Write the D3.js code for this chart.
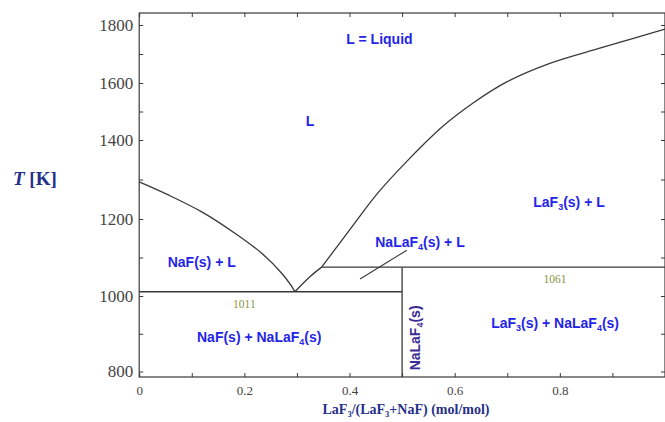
<!DOCTYPE html>
<html><head><meta charset="utf-8">
<script src="https://cdn.jsdelivr.net/npm/d3@7"></script>
<style>body{margin:0;background:#fff;overflow:hidden}</style>
</head><body><svg id="c" width="665" height="422"></svg>
<script>
// ---- data ----
const yTickValues = [800, 1000, 1200, 1400, 1600, 1800];
const xTickValues = [0, 0.2, 0.4, 0.6, 0.8];
const xMinorTicks = [0, 0.1, 0.2, 0.3, 0.4, 0.5, 0.6, 0.7, 0.8, 0.9, 1.0];
const yMinorTicks = [800, 900, 1000, 1100, 1200, 1300, 1400, 1500, 1600, 1700, 1800];

const naFLiquidusX = [0, 0.0553, 0.119, 0.182, 0.233, 0.271, 0.295, 0.296];
const naFLiquidusT = [1294, 1261, 1218, 1163, 1111, 1059, 1014, 1011];
const naLaF4LiquidusX = [0.296, 0.3247, 0.347];
const naLaF4LiquidusT = [1011, 1050, 1075];
const laF3LiquidusX = [0.347, 0.401, 0.454, 0.509, 0.578, 0.635, 0.699, 0.781, 0.876, 0.940, 1.0];
const laF3LiquidusT = [1075, 1173, 1266, 1346, 1449, 1530, 1604, 1668, 1720, 1754, 1786];

const eutecticX = [0, 0.5];
const eutecticT = 1011;
const peritecticX = [0.347, 1.0];
const peritecticT = 1075;
const compoundX = 0.5;
const leaderX = [0.42, 0.509];
const leaderT = [1044, 1119];

const regionLabels = ["L = Liquid", "L", "NaF(s) + L", "NaF(s) + NaLaF_4(s)", "NaLaF_4(s) + L", "LaF_3(s) + L", "LaF_3(s) + NaLaF_4(s)"];
const regionLabelX = [0.457, 0.325, 0.119, 0.2283, 0.534, 0.8175, 0.791];
const regionLabelT = [1733, 1449, 1076, 879, 1128, 1231, 914];
const tempLabels = ["1011", "1061"];
const tempLabelX = [0.2, 0.791];
const tempLabelT = [968, 1035];
const compoundLabel = "NaLaF_4(s)";
const compoundLabelX = 0.534;
const compoundLabelT = 889;

// ---- scales ----
const x = d3.scaleLinear().domain([0, 1]).range([139.2, 665]);
const y = d3.scaleLinear()
  .domain([785, 800, 1000, 1200, 1400, 1600, 1800, 1841])
  .range([377, 371.5, 296, 219, 140, 83, 25, 13]);
const yLo = 785, yHi = 1841;

const svg = d3.select("#c");
const lineCol = "#3a3a3a";
const blue = "#2424e8";

// frame
svg.append("rect")
  .attr("x", x(0)).attr("y", y(yHi))
  .attr("width", x(1) - x(0)).attr("height", y(yLo) - y(yHi))
  .attr("fill", "none").attr("stroke", lineCol).attr("stroke-width", 1.2);

// inner minor ticks
function styleTicks(g) {
  g.select(".domain").remove();
  g.selectAll("line").attr("stroke", lineCol).attr("stroke-width", 1);
}
svg.append("g").attr("transform", `translate(0,${y(yLo)})`)
  .call(d3.axisBottom(x).tickValues(xMinorTicks).tickSize(-4).tickFormat("")).call(styleTicks);
svg.append("g").attr("transform", `translate(0,${y(yHi)})`)
  .call(d3.axisTop(x).tickValues(xMinorTicks).tickSize(-4).tickFormat("")).call(styleTicks);
svg.append("g").attr("transform", `translate(${x(0)},0)`)
  .call(d3.axisLeft(y).tickValues(yMinorTicks).tickSize(-4).tickFormat("")).call(styleTicks);
svg.append("g").attr("transform", `translate(${x(1)},0)`)
  .call(d3.axisRight(y).tickValues(yMinorTicks).tickSize(-4).tickFormat("")).call(styleTicks);

// tick labels
const xAx = svg.append("g").attr("transform", `translate(0,${y(yLo)})`)
  .call(d3.axisBottom(x).tickValues(xTickValues).tickSize(0).tickPadding(9)
    .tickFormat(d => d === 0 ? "0" : d3.format(".1f")(d)));
xAx.select(".domain").remove();
xAx.selectAll("text").attr("font-family", "Liberation Serif, Times New Roman, serif")
  .attr("font-size", 13).attr("fill", "#444");

const yAx = svg.append("g").attr("transform", `translate(${x(0)},0)`)
  .call(d3.axisLeft(y).tickValues(yTickValues).tickSize(0).tickPadding(6).tickFormat(d3.format("d")));
yAx.select(".domain").remove();
yAx.selectAll("text").attr("font-family", "Liberation Serif, Times New Roman, serif")
  .attr("font-size", 17).attr("fill", "#444");

// phase boundaries
const line = d3.line().x(d => x(d[0])).y(d => y(d[1])).curve(d3.curveCatmullRom.alpha(0.5));
function drawCurve(xs, ts) {
  svg.append("path").datum(xs.map((v, i) => [v, ts[i]]))
    .attr("d", line).attr("fill", "none").attr("stroke", lineCol).attr("stroke-width", 1.3);
}
drawCurve(naFLiquidusX, naFLiquidusT);
drawCurve(naLaF4LiquidusX, naLaF4LiquidusT);
drawCurve(laF3LiquidusX, laF3LiquidusT);
drawCurve(eutecticX, [eutecticT, eutecticT]);
drawCurve(peritecticX, [peritecticT, peritecticT]);
svg.append("line").attr("x1", x(compoundX)).attr("x2", x(compoundX))
  .attr("y1", y(peritecticT)).attr("y2", y(yLo))
  .attr("stroke", lineCol).attr("stroke-width", 1.3);
svg.append("line").attr("x1", x(leaderX[0])).attr("y1", y(leaderT[0]))
  .attr("x2", x(leaderX[1])).attr("y2", y(leaderT[1]))
  .attr("stroke", lineCol).attr("stroke-width", 1.1);

// text helper with subscripts marked by _digit
function addRich(sel, str, subSize) {
  const parts = str.split(/_(\d)/);
  parts.forEach((p, i) => {
    if (p === "") return;
    if (i % 2 === 1) {
      sel.append("tspan").attr("dy", 3).attr("font-size", subSize).text(p);
    } else {
      const t = sel.append("tspan").text(p);
      if (i > 0) t.attr("dy", -3);
    }
  });
}
regionLabels.forEach((s, i) => {
  const t = svg.append("text")
    .attr("x", x(regionLabelX[i])).attr("y", y(regionLabelT[i]))
    .attr("text-anchor", "middle")
    .attr("font-family", "Liberation Sans, Arial, sans-serif")
    .attr("font-weight", "bold").attr("font-size", 14).attr("fill", blue);
  addRich(t, s, 9);
});
tempLabels.forEach((s, i) => {
  svg.append("text").attr("x", x(tempLabelX[i])).attr("y", y(tempLabelT[i]))
    .attr("text-anchor", "middle")
    .attr("font-family", "Liberation Serif, Times New Roman, serif")
    .attr("font-size", 11.5).attr("fill", "#8a9440").text(s);
});
{
  const t = svg.append("text")
    .attr("transform", `translate(${x(compoundLabelX)},${y(compoundLabelT)}) rotate(-90)`)
    .attr("text-anchor", "middle")
    .attr("font-family", "Liberation Sans, Arial, sans-serif")
    .attr("font-weight", "bold").attr("font-size", 14).attr("fill", "#3a2a96");
  addRich(t, compoundLabel, 9);
}

// axis titles
{
  const t = svg.append("text").attr("x", 406).attr("y", 414)
    .attr("text-anchor", "middle")
    .attr("font-family", "Liberation Serif, Times New Roman, serif")
    .attr("font-weight", "bold").attr("font-size", 14).attr("fill", "#25308a");
  addRich(t, "LaF_3/(LaF_3+NaF) (mol/mol)", 8.5);
}
{
  const t = svg.append("text").attr("x", 13).attr("y", 185)
    .attr("font-family", "Liberation Serif, Times New Roman, serif")
    .attr("font-weight", "bold").attr("font-size", 19).attr("fill", "#25308a");
  t.append("tspan").attr("font-style", "italic").text("T");
  t.append("tspan").text(" [K]");
}
</script>
</body></html>
